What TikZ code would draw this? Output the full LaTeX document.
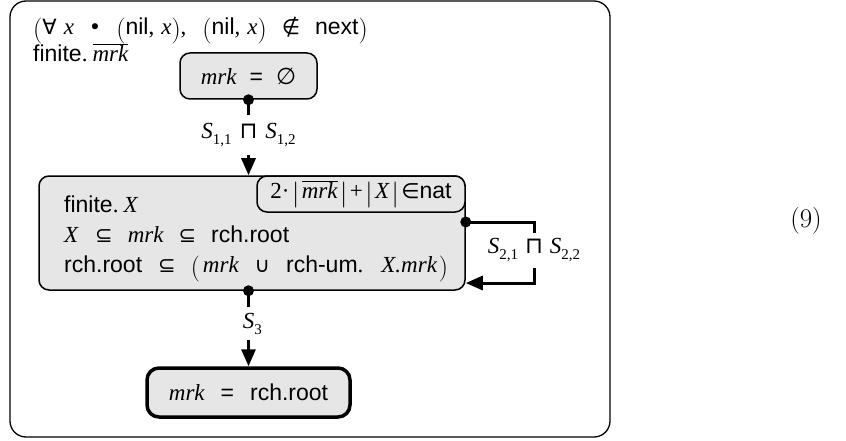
\documentclass[tikz,border=0pt]{standalone}
\usepackage{fontspec}
\newfontfamily\ars{Liberation Sans}
\newfontfamily\tms{Liberation Serif}
\newfontfamily\dvs{DejaVu Sans}
\usetikzlibrary{arrows.meta}
\definecolor{boxgray}{HTML}{E6E6E6}
% variables in serif italic, symbols from DejaVu, upright serif punctuation
\newcommand\vr[1]{{\tms\itshape #1}}
\newcommand\sy[1]{{\dvs\fontsize{21}{23}\selectfont #1}}
\newcommand\rp[1]{{\tms #1}}
\newcommand\meet{{\dvs\fontsize{23}{23}\selectfont ⊓}}
% tall thin delimiters
\newcommand\bp[1]{\raisebox{-3pt}{\rmfamily\fontsize{26}{26}\selectfont #1}}
\newcommand\bb{\hspace{2.5pt}\raisebox{-3pt}{\rmfamily\fontsize{26}{26}\selectfont |}\hspace{2.5pt}}
\newcommand\Ssub[1]{\vr{S}\raisebox{-6pt}{\fontsize{15}{15}\selectfont\tms #1}}
\newcommand\ovmrk{$\overline{\hbox{\vr{mrk}}}$}
\begin{document}
\begin{tikzpicture}[x=1pt,y=-1pt,
  every node/.style={font=\ars\fontsize{23}{28}\selectfont, inner sep=0pt},
  gbox/.style={draw, fill=boxgray, rounded corners=10pt, line width=1.5pt},
  conn/.style={line width=3pt},
  tip/.style={-{Triangle[length=17pt,width=14pt]}}]
\useasboundingbox (0,0) rectangle (846,441);
% outer frame
\draw[line width=1.3pt, rounded corners=16pt] (10,1) rectangle (610,437);
% preconditions
\node[anchor=base west] (pre) at (33,35)
  {\bp{(}\sy{∀}\hspace{7pt}\vr{x}\hspace{15pt}\sy{•}\hspace{15pt}\bp{(}nil\rp{,}\hspace{7pt}\vr{x}\bp{)}\rp{,}\hspace{16pt}\bp{(}nil\rp{,}\hspace{7pt}\vr{x}\bp{)}\hspace{15pt}\sy{∉}\hspace{15pt}next\bp{)}};
\node[anchor=base west] (fin) at (33,62) {finite\rp{.}\hspace{5pt}\ovmrk};
% initial state
\node[gbox, minimum width=137pt, minimum height=46pt] (init) at (248.5,76)
  {\vr{mrk}\hspace{13pt}=\hspace{13pt}{\dvs ∅}};
% loop body
\node[gbox, minimum width=426pt, minimum height=114pt] (body) at (252,233) {};
\node[gbox, anchor=north east, minimum width=208pt, minimum height=36pt] (inv) at (body.north east)
  {\rp{2·}\bb\ovmrk\bb\rp{+}\bb\vr{X}\bb\sy{∈}nat};
\node[anchor=base west] (b1) at (64,212) {finite\rp{.}\hspace{5pt}\vr{X}};
\node[anchor=base west] (b2) at (64,242)
  {\vr{X}\hspace{17pt}\sy{⊆}\hspace{15pt}\vr{mrk}\hspace{15pt}\sy{⊆}\hspace{15pt}rch.root};
\node[anchor=base west] (b3) at (64,272)
  {rch.root\hspace{16pt}\sy{⊆}\hspace{15pt}\bp{(}\hspace{3pt}\vr{mrk}\hspace{16pt}\sy{∪}\hspace{16pt}rch-um\rp{.}\hspace{18pt}\vr{X.mrk}\hspace{2pt}\bp{)}};
% final state
\node[gbox, line width=3.5pt, rounded corners=12pt, minimum width=203pt, minimum height=49pt] (goal) at (248.5,392.5)
  {\vr{mrk}\hspace{16pt}=\hspace{16pt}rch.root};
% first transition
\node[minimum height=40pt] (l1) at (248.5,135)
  {\Ssub{1,1}\hspace{8pt}\meet\hspace{8pt}\Ssub{1,2}};
\fill (init.south) circle (5.5pt);
\draw[conn] (init.south) -- (l1.north);
\draw[conn,tip] (l1.south) -- (init.south |- body.north);
% loop transition
\coordinate (lo) at ([yshift=11pt]body.east);
\coordinate (li) at ([yshift=-50pt]body.east);
\node[minimum height=35pt] (l2) at (534,250.5)
  {\llap{\Ssub{2,1}\hspace{7pt}}\meet\rlap{\hspace{7pt}\Ssub{2,2}}};
\fill (lo) circle (5.5pt);
\draw[conn] (lo) -| (l2.north);
\draw[conn,tip] (l2.south) |- (li);
% exit transition
\node[minimum height=33pt] (l3) at (248.5,323.5)
  {\vr{S}\rlap{\raisebox{-6pt}{\fontsize{15}{15}\selectfont\tms 3}}};
\fill (l3 |- body.south) circle (5.5pt);
\draw[conn] (l3 |- body.south) -- (l3.north);
\draw[conn,tip] (l3.south) -- (goal.north);
% equation number
\node[font=\rmfamily\fontsize{27}{32}\selectfont] (eq) at (806,221) {(9)};
\end{tikzpicture}
\end{document}
